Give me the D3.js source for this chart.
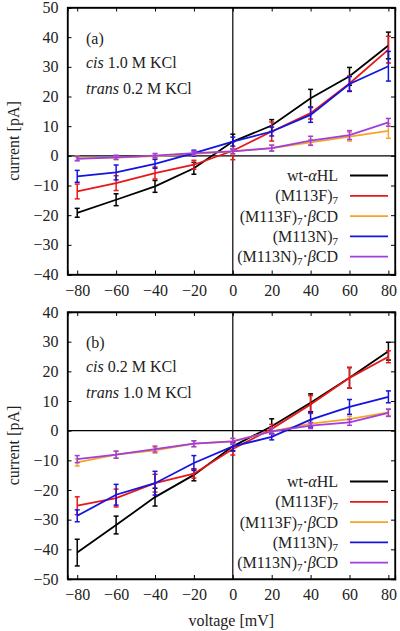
<!DOCTYPE html>
<html><head><meta charset="utf-8">
<script src="https://cdn.jsdelivr.net/npm/d3@7"></script>
<style>body{margin:0;background:#fff}svg{display:block}svg text{font-family:"Liberation Serif","DejaVu Serif","Noto Serif",serif !important;fill:#222}</style>
</head><body><svg id="c" width="400" height="631"></svg>
<script>
const voltages = [-80,-60,-40,-20,0,20,40,60,80];
const seriesNames = ["wt-αHL","(M113F)7","(M113F)7·βCD","(M113N)7","(M113N)7·βCD"];
const seriesColors = ["#000000","#e81818","#f5a524","#1414e0","#a03ee0"];
// panel (a)
const aWt   = [-19.2,-14.8,-10.3,-4.2,4.8,10.2,19.4,26.8,37.2];
const aWtE  = [1.5,2,2,2,2.5,2,3,3,4.5];
const aF    = [-12,-9.2,-5.8,-3,1.7,8.2,14.4,24.4,35.8];
const aFE   = [2.5,2.5,2,1.5,3,3.2,2,2.5,4.5];
const aFb   = [-0.8,-0.6,-0.1,0.7,1.5,2.6,4.5,6.5,8.4];
const aFbE  = [0.7,0.7,0.7,0.8,1,1,1,1.5,2.5];
const aN    = [-6.9,-5.6,-2.7,0.9,4.8,8.2,13.8,24.2,30.2];
const aNE   = [2,2.5,1.5,1,1.5,1.5,2.5,2.5,5];
const aNb   = [-1,-0.5,0.1,0.9,1.5,2.6,5.1,7,11.3];
const aNbE  = [0.7,0.7,0.7,0.7,0.8,1,1.5,1.5,1.3];
// panel (b)
const bWt   = [-41.1,-31.8,-22.4,-14.9,-5.3,1.5,9.4,17.8,26.8];
const bWtE  = [4.5,3,3,2,1.5,2.5,3,3.5,3];
const bF    = [-25.3,-22.7,-17.7,-14.5,-6.2,0.6,8.8,17.8,24.9];
const bFE   = [3,3,3,1.5,2,1.5,3,3.5,2];
const bFb   = [-10.7,-8.1,-6.6,-4.4,-3.6,-0.2,2.4,3.9,6.2];
const bFbE  = [1.2,1.2,1,1,1,1,1,1,1.2];
const bN    = [-28.7,-21.6,-17.7,-10.9,-5.3,-2.1,3.7,8,11.4];
const bNE   = [2,3.5,4,2.5,1.5,1,2.5,2.5,2];
const bNb   = [-9.6,-8.1,-6.2,-4.4,-3.6,-0.2,1.7,2.8,6];
const bNbE  = [1.2,1.2,1,1,1,1,1,1,1.2];

const xTicks = [-80,-60,-40,-20,0,20,40,60,80];
const aYTicks = [-40,-30,-20,-10,0,10,20,30,40,50];
const bYTicks = [-50,-40,-30,-20,-10,0,10,20,30,40];

const svg = d3.select("#c");
const left = 67.5, right = 395;
const FS = 16;
const FF = '"Liberation Serif","DejaVu Serif",serif';

function panel(cfg){
  const x = d3.scaleLinear().domain([-85,83.4]).range([left,right]);
  const y = d3.scaleLinear().domain(cfg.yDomain).range([cfg.bottom,cfg.top]);
  const g = svg.append("g");
  g.append("line").attr("x1",x(0)).attr("x2",x(0)).attr("y1",cfg.top).attr("y2",cfg.bottom).attr("stroke","#000").attr("stroke-width",1.2);
  g.append("line").attr("x1",left).attr("x2",right).attr("y1",y(0)).attr("y2",y(0)).attr("stroke","#000").attr("stroke-width",1.2);
  const tl = 4;
  const axes = [
    g.append("g").attr("transform",`translate(0,${cfg.bottom})`).call(d3.axisBottom(x).tickValues(xTicks).tickSize(-tl).tickPadding(10).tickFormat(d3.format("d"))),
    g.append("g").attr("transform",`translate(0,${cfg.top})`).call(d3.axisTop(x).tickValues(xTicks).tickSize(-tl).tickFormat("")),
    g.append("g").attr("transform",`translate(${left},0)`).call(d3.axisLeft(y).tickValues(cfg.yTicks).tickSize(-tl).tickPadding(9).tickFormat(d3.format("d"))),
    g.append("g").attr("transform",`translate(${right},0)`).call(d3.axisRight(y).tickValues(cfg.yTicks).tickSize(-tl).tickFormat(""))
  ];
  axes.forEach(a=>a.attr("font-family",FF).attr("font-size",FS));
  g.selectAll(".domain").attr("stroke","#000").attr("stroke-width",1.3);
  g.selectAll(".tick line").attr("stroke","#000").attr("stroke-width",1);
  g.selectAll(".tick text").attr("font-size",FS).attr("font-family",FF).attr("fill","#222");
  g.append("rect").attr("x",left).attr("y",cfg.top).attr("width",right-left).attr("height",cfg.bottom-cfg.top).attr("fill","none").attr("stroke","#000").attr("stroke-width",1.3);
  const line = d3.line().x(d=>x(d.v)).y(d=>y(d.c));
  cfg.series.forEach((s,i)=>{
    const pts = voltages.map((v,j)=>({v,c:s.vals[j],e:s.errs[j]}));
    const sg = g.append("g");
    sg.append("path").datum(pts).attr("d",line).attr("fill","none").attr("stroke",seriesColors[i]).attr("stroke-width",1.8);
    const eb = sg.selectAll("g.eb").data(pts).join("g").attr("stroke",seriesColors[i]).attr("stroke-width",1.5);
    eb.append("line").attr("x1",d=>x(d.v)).attr("x2",d=>x(d.v)).attr("y1",d=>y(d.c-d.e)).attr("y2",d=>y(d.c+d.e));
    eb.append("line").attr("x1",d=>x(d.v)-2.5).attr("x2",d=>x(d.v)+2.5).attr("y1",d=>y(d.c-d.e)).attr("y2",d=>y(d.c-d.e));
    eb.append("line").attr("x1",d=>x(d.v)-2.5).attr("x2",d=>x(d.v)+2.5).attr("y1",d=>y(d.c+d.e)).attr("y2",d=>y(d.c+d.e));
  });
  svg.append("text").attr("transform",`translate(19,${(cfg.top+cfg.bottom)/2}) rotate(-90)`).attr("text-anchor","middle").attr("font-size",FS).text("current [pA]");
  const ax = 86;
  svg.append("text").attr("x",ax).attr("y",cfg.top+36).attr("font-size",FS).text(cfg.tag);
  const t1 = svg.append("text").attr("x",ax).attr("y",cfg.top+60).attr("font-size",FS);
  t1.append("tspan").attr("font-style","italic").text("cis");
  t1.append("tspan").text(" " + cfg.cis + " M KCl");
  const t2 = svg.append("text").attr("x",ax).attr("y",cfg.top+86).attr("font-size",FS);
  t2.append("tspan").attr("font-style","italic").text("trans");
  t2.append("tspan").text(" " + cfg.trans + " M KCl");
  seriesNames.forEach((n,i)=>{
    const ly = cfg.legTop + i*20.3;
    g.append("line").attr("x1",350).attr("x2",388).attr("y1",ly).attr("y2",ly).attr("stroke",seriesColors[i]).attr("stroke-width",1.8);
    const t = g.append("text").attr("x",338).attr("y",ly+5.5).attr("text-anchor","end").attr("font-size",FS);
    legendLabel(t,i);
  });
}
function legendLabel(t,i){
  if(i===0){ t.append("tspan").text("wt-"); t.append("tspan").attr("font-style","italic").text("α"); t.append("tspan").text("HL"); return; }
  const base = i<3 ? "(M113F)" : "(M113N)";
  t.append("tspan").text(base);
  t.append("tspan").attr("font-size",11).attr("dy",3).text("7");
  if(i===2||i===4){
    t.append("tspan").attr("dy",-3).text("·");
    t.append("tspan").attr("font-style","italic").text("β");
    t.append("tspan").text("CD");
  }
}
panel({top:7.5,bottom:274.5,yDomain:[-40,50],yTicks:aYTicks,tag:"(a)",cis:"1.0",trans:"0.2",legTop:175.5,
  series:[{vals:aWt,errs:aWtE},{vals:aF,errs:aFE},{vals:aFb,errs:aFbE},{vals:aN,errs:aNE},{vals:aNb,errs:aNbE}]});
panel({top:312,bottom:579,yDomain:[-50,40],yTicks:bYTicks,tag:"(b)",cis:"0.2",trans:"1.0",legTop:481.5,
  series:[{vals:bWt,errs:bWtE},{vals:bF,errs:bFE},{vals:bFb,errs:bFbE},{vals:bN,errs:bNE},{vals:bNb,errs:bNbE}]});
svg.append("text").attr("x",(left+right)/2).attr("y",626).attr("text-anchor","middle").attr("font-size",FS).text("voltage [mV]");
</script></body></html>
